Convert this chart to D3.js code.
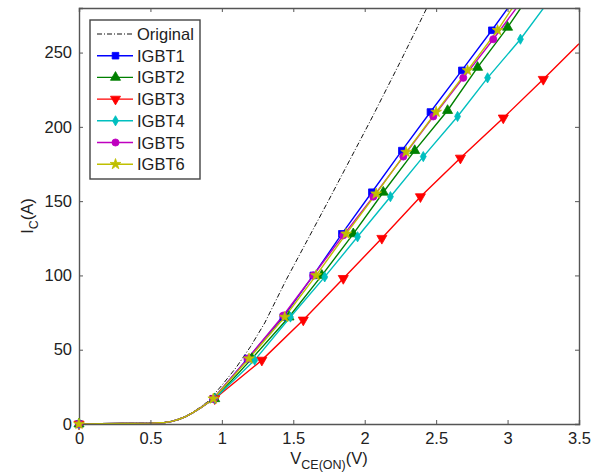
<!DOCTYPE html>
<html>
<head>
<meta charset="utf-8">
<script src="https://cdn.jsdelivr.net/npm/d3@7"></script>
<style>
  body { margin: 0; background: #fff; }
  text { font-family: "Liberation Sans", Arial, sans-serif; fill: #222; }
</style>
</head>
<body>
<svg id="chart" width="602" height="474"></svg>
<script>
// axis ticks
const xTicks = [0, 0.5, 1, 1.5, 2, 2.5, 3, 3.5];
const yTicks = [0, 50, 100, 150, 200, 250];

// knee region (shared shape below ~0.94 V)
const kneeV = [0, 0.3, 0.5, 0.6, 0.65, 0.7, 0.75, 0.8, 0.85, 0.9];
const kneeI = [0, 0.4, 0.6, 1, 1.8, 3.2, 5.2, 7.8, 10.8, 14.2];

// original curve (no markers)
const origV = [0, 0.3, 0.5, 0.6, 0.7, 0.8, 0.9, 1.0, 1.1, 1.2, 1.3, 1.45, 1.75, 2.05, 2.25, 2.45];
const origI = [0, 0.4, 0.6, 1, 3, 8, 15, 26, 38, 52, 68, 97, 151, 206, 244, 283];

// marker points for each device, plus the last point where the curve leaves the box
const igbt1V = [0, 0.94, 1.18, 1.43, 1.64, 1.84, 2.05, 2.26, 2.46, 2.68, 2.89];
const igbt1I = [0, 17, 44, 72, 100, 128, 156, 184, 210, 238, 265];
const igbt1End = [3.01, 281];

const igbt2V = [0, 0.95, 1.21, 1.47, 1.70, 1.92, 2.13, 2.35, 2.58, 2.79, 3.0];
const igbt2I = [0, 17, 44, 72, 100, 128, 156, 184, 211, 240, 267];
const igbt2End = [3.10, 281];

const igbt3V = [0, 0.95, 1.28, 1.57, 1.85, 2.12, 2.39, 2.67, 2.97, 3.25];
const igbt3I = [0, 17, 43, 70, 98, 125, 153, 179, 206, 232];
const igbt3End = [3.5, 256];

const igbt4V = [0, 0.95, 1.23, 1.48, 1.72, 1.95, 2.18, 2.41, 2.65, 2.86, 3.09];
const igbt4I = [0, 17, 43, 72, 99, 126, 153, 180, 207, 233, 259];
const igbt4End = [3.26, 281];

const igbt5V = [0, 0.94, 1.18, 1.43, 1.64, 1.85, 2.06, 2.27, 2.48, 2.69, 2.90];
const igbt5I = [0, 17, 44, 73, 100, 127, 153, 180, 207, 233, 259];
const igbt5End = [3.07, 281];

const igbt6V = [0, 0.94, 1.19, 1.44, 1.66, 1.87, 2.08, 2.29, 2.50, 2.72, 2.93];
const igbt6I = [0, 17, 44, 72, 100, 128, 155, 183, 210, 238, 265];
const igbt6End = [3.04, 281];

const names = ["IGBT1", "IGBT2", "IGBT3", "IGBT4", "IGBT5", "IGBT6"];
const colors = ["#0000ff", "#008000", "#ff0000", "#00bfbf", "#bf00bf", "#bfbf00"];
const symbols = [d3.symbolSquare, d3.symbolTriangle, "down", d3.symbolDiamond, d3.symbolCircle, d3.symbolStar];
const symbolSizes = [44, 44, 44, 30, 40, 36];

const series = [
  [igbt1V, igbt1I, igbt1End],
  [igbt2V, igbt2I, igbt2End],
  [igbt3V, igbt3I, igbt3End],
  [igbt4V, igbt4I, igbt4End],
  [igbt5V, igbt5I, igbt5End],
  [igbt6V, igbt6I, igbt6End]
].map(function(s, k) {
  const marks = s[0].map((v, i) => [v, s[1][i]]);
  const knee = kneeV.slice(1).map((v, i) => [v, kneeI[i + 1]]);
  const line = [[0, 0]].concat(knee, marks.slice(1), [s[2]]);
  return { name: names[k], color: colors[k], marks: marks, line: line, k: k };
});

const margin = { left: 79, right: 23, top: 8, bottom: 50 };
const width = 602 - margin.left - margin.right;
const height = 474 - margin.top - margin.bottom;

const svg = d3.select("svg#chart");
const plot = svg.append("g").attr("transform", translate(margin.left, margin.top));

const x = d3.scaleLinear().domain([0, 3.5]).range([0, width]);
const y = d3.scaleLinear().domain([0, 280]).range([height, 0]);

svg.append("defs").append("clipPath").attr("id", "clip")
  .append("rect").attr("width", width).attr("height", height);

const line = d3.line().x(d => x(d[0])).y(d => y(d[1]));

// curves
const curves = plot.append("g").attr("clip-path", "url(#clip)");
const marks = plot.append("g");

curves.append("path")
  .datum(origV.map((v, i) => [v, origI[i]]))
  .attr("d", line)
  .attr("fill", "none")
  .attr("stroke", "#111")
  .attr("stroke-width", 1)
  .attr("stroke-dasharray", "5,2,1,2");

function markerPath(k) {
  if (symbols[k] === "down") {
    return d3.symbol().type(d3.symbolTriangle).size(symbolSizes[k])();
  }
  return d3.symbol().type(symbols[k]).size(symbolSizes[k])();
}

series.forEach(function(s) {
  curves.append("path")
    .datum(s.line)
    .attr("d", line)
    .attr("fill", "none")
    .attr("stroke", s.color)
    .attr("stroke-width", 1.4);
});

series.forEach(function(s) {
  marks.selectAll(null)
    .data(s.marks)
    .enter()
    .append("path")
    .attr("d", markerPath(s.k))
    .attr("transform", d => translate(x(d[0]), y(d[1])) + (symbols[s.k] === "down" ? " rotate(180)" : ""))
    .attr("fill", s.color)
    .attr("stroke", s.color)
    .attr("stroke-width", 0.8);
});

// axes box with inward ticks
const axisColor = "#555";
const bottomAxis = d3.axisBottom(x).tickValues(xTicks).tickSize(-4).tickPadding(8).tickFormat(d3.format("~g"));
const leftAxis = d3.axisLeft(y).tickValues(yTicks).tickSize(-4).tickPadding(7);
const topAxis = d3.axisTop(x).tickValues(xTicks).tickSize(-4).tickFormat("");
const rightAxis = d3.axisRight(y).tickValues(yTicks).tickSize(-4).tickFormat("");

const gx = plot.append("g").attr("transform", translate(0, height)).call(bottomAxis);
const gy = plot.append("g").call(leftAxis);
const gt = plot.append("g").call(topAxis);
const gr = plot.append("g").attr("transform", translate(width, 0)).call(rightAxis);

[gx, gy, gt, gr].forEach(function(g) {
  g.select(".domain").attr("stroke", axisColor).attr("stroke-width", 1.4);
  g.selectAll(".tick line").attr("stroke", axisColor).attr("stroke-width", 1);
  g.selectAll(".tick text")
    .attr("font-family", "Liberation Sans, Arial, sans-serif")
    .attr("font-size", 16.5)
    .attr("fill", "#222");
});
marks.raise();

// axis labels
const xl = svg.append("text")
  .attr("x", margin.left + width / 2)
  .attr("y", 464)
  .attr("text-anchor", "middle")
  .attr("font-size", 16.5);
xl.append("tspan").text("V");
xl.append("tspan").attr("font-size", 12.5).attr("dy", 5).text("CE(ON)");
xl.append("tspan").attr("dy", -5).text("(V)");

const yl = svg.append("text")
  .attr("transform", translate(33, margin.top + height / 2) + " rotate(-90)")
  .attr("text-anchor", "middle")
  .attr("font-size", 16.5);
yl.append("tspan").text("I");
yl.append("tspan").attr("font-size", 12.5).attr("dy", 5).text("C");
yl.append("tspan").attr("dy", -5).text("(A)");

// legend
const legend = svg.append("g").attr("transform", translate(90, 20));
legend.append("rect")
  .attr("width", 110).attr("height", 159)
  .attr("fill", "#fff")
  .attr("stroke", "#444")
  .attr("stroke-width", 1.4);

const entries = [{ name: "Original", color: "#111", k: -1 }].concat(series);
const rows = legend.selectAll("g.row")
  .data(entries)
  .enter()
  .append("g")
  .attr("class", "row")
  .attr("transform", (d, i) => translate(0, 14 + i * 21.7));

rows.append("line")
  .attr("x1", 7).attr("x2", 43)
  .attr("stroke", d => d.color)
  .attr("stroke-width", d => d.k < 0 ? 1 : 1.4)
  .attr("stroke-dasharray", d => d.k < 0 ? "5,2,1,2" : null);

rows.filter(d => d.k >= 0).append("path")
  .attr("d", d => markerPath(d.k))
  .attr("transform", d => translate(25.5, 0) + (symbols[d.k] === "down" ? " rotate(180)" : ""))
  .attr("fill", d => d.color)
  .attr("stroke", d => d.color)
  .attr("stroke-width", 0.8);

rows.append("text")
  .attr("x", 47)
  .attr("y", 6)
  .attr("font-size", 16.5)
  .text(d => d.name);

function translate(x, y) {
  return "translate(" + String(x) + "," + String(y) + ")";
}
</script>
</body>
</html>
